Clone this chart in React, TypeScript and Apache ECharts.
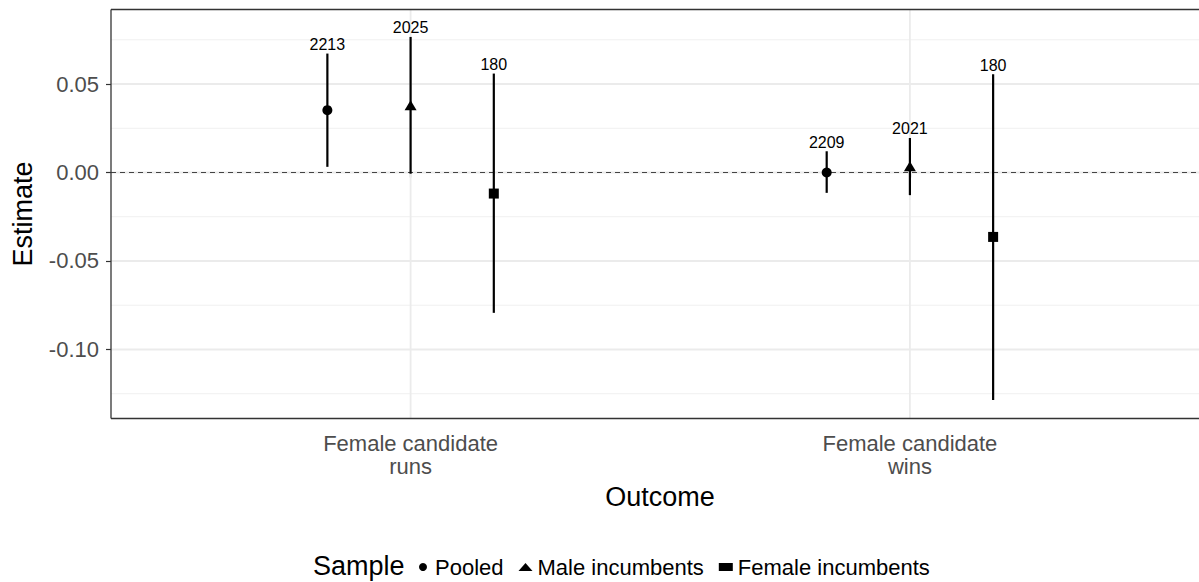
import React, { useEffect, useRef } from "react";
import * as echarts from "echarts";

const outcomes = ["Female candidate\nruns", "Female candidate\nwins"];
const samples = ["Pooled", "Male incumbents", "Female incumbents"];
const sampleSymbols = ["circle", "triangle", "rect"];

const pooledEst = [0.0352, 0.0];
const pooledLow = [0.0032, -0.0115];
const pooledHigh = [0.0672, 0.012];
const pooledN = [2213, 2209];

const maleEst = [0.038, 0.0036];
const maleLow = [-0.0007, -0.0128];
const maleHigh = [0.0766, 0.0195];
const maleN = [2025, 2021];

const femaleEst = [-0.0119, -0.0364];
const femaleLow = [-0.0793, -0.1286];
const femaleHigh = [0.0559, 0.0555];
const femaleN = [180, 180];

const yTicks = [-0.1, -0.05, 0, 0.05];
const yMinorTicks = [-0.125, -0.075, -0.025, 0.025, 0.075];
const xTicks = [1, 2];

const FONT = '"Liberation Sans", Arial, Helvetica, sans-serif';
const dodge = [-1 / 6, 0, 1 / 6];

export default function App() {
  const ref = useRef<HTMLDivElement>(null);
  useEffect(() => {
    if (!ref.current) return;
    const chart = echarts.init(ref.current, undefined, { renderer: "svg" });
    const groups = [
      { est: pooledEst, low: pooledLow, high: pooledHigh, n: pooledN },
      { est: maleEst, low: maleLow, high: maleHigh, n: maleN },
      { est: femaleEst, low: femaleLow, high: femaleHigh, n: femaleN },
    ];
    const symbolSizes: any[] = [10, [12, 10], 10];

    const hLines = (vals: number[], color: string, width: number, z: number) => ({
      type: "custom",
      silent: true,
      z,
      data: vals.map((v) => [v]),
      encode: { y: 0 },
      renderItem: (params: any, api: any) => {
        const cs = params.coordSys;
        const y = api.coord([1, api.value(0)])[1];
        return {
          type: "line",
          shape: { x1: cs.x, y1: y, x2: cs.x + cs.width, y2: y },
          style: { stroke: color, lineWidth: width },
        };
      },
    });
    const vLines = (vals: number[], color: string, width: number, z: number) => ({
      type: "custom",
      silent: true,
      z,
      data: vals.map((v) => [v]),
      encode: { x: 0 },
      renderItem: (params: any, api: any) => {
        const cs = params.coordSys;
        const x = api.coord([api.value(0), 0])[0];
        return {
          type: "line",
          shape: { x1: x, y1: cs.y, x2: x, y2: cs.y + cs.height },
          style: { stroke: color, lineWidth: width },
        };
      },
    });

    const series: any[] = [
      hLines(yMinorTicks, "#f0f0f0", 1, 1),
      hLines(yTicks, "#ebebeb", 1.8, 1),
      vLines(xTicks, "#ebebeb", 1.8, 1),
      {
        type: "custom",
        silent: true,
        z: 2,
        data: [[0]],
        encode: { y: 0 },
        renderItem: (params: any, api: any) => {
          const cs = params.coordSys;
          const y = api.coord([1, api.value(0)])[1];
          return {
            type: "line",
            shape: { x1: cs.x, y1: y, x2: cs.x + cs.width, y2: y },
            style: { stroke: "#444444", lineWidth: 1.1, lineDash: [5, 4] },
          };
        },
      },
      {
        // panel border (top, bottom, left; right side lies off-canvas)
        type: "custom",
        silent: true,
        z: 5,
        clip: false,
        data: [[0]],
        renderItem: (params: any) => {
          const cs = params.coordSys;
          const st = { stroke: "#333333", lineWidth: 1.3 };
          return {
            type: "group",
            children: [
              { type: "line", shape: { x1: cs.x, y1: cs.y, x2: cs.x + cs.width, y2: cs.y }, style: st },
              {
                type: "line",
                shape: { x1: cs.x, y1: cs.y + cs.height, x2: cs.x + cs.width, y2: cs.y + cs.height },
                style: st,
              },
              { type: "line", shape: { x1: cs.x, y1: cs.y, x2: cs.x, y2: cs.y + cs.height }, style: st },
            ],
          };
        },
      },
    ];

    groups.forEach((g, gi) => {
      series.push({
        type: "custom",
        name: samples[gi],
        silent: true,
        z: 3,
        data: outcomes.map((_, ci) => [ci + 1 + dodge[gi], g.low[ci], g.high[ci], g.n[ci]]),
        encode: { x: 0, y: [1, 2] },
        renderItem: (params: any, api: any) => {
          const x = api.value(0);
          const p1 = api.coord([x, api.value(1)]);
          const p2 = api.coord([x, api.value(2)]);
          return {
            type: "group",
            children: [
              {
                type: "line",
                shape: { x1: p1[0], y1: p1[1], x2: p2[0], y2: p2[1] },
                style: { stroke: "#000000", lineWidth: 2.2 },
              },
              {
                type: "text",
                x: p2[0],
                y: p2[1] - 1,
                style: {
                  text: String(api.value(3)),
                  fill: "#000000",
                  fontSize: 16,
                  fontFamily: FONT,
                  align: "center",
                  verticalAlign: "bottom",
                },
              },
            ],
          };
        },
      });
      series.push({
        type: "scatter",
        name: samples[gi],
        z: 4,
        symbol: sampleSymbols[gi],
        symbolSize: symbolSizes[gi],
        itemStyle: { color: "#000000", opacity: 1 },
        data: outcomes.map((_, ci) => [ci + 1 + dodge[gi], g.est[ci]]),
      });
    });

    chart.setOption({
      animation: false,
      backgroundColor: "#ffffff",
      textStyle: { fontFamily: FONT },
      grid: {
        left: 111,
        top: 9.5,
        width: 1098.5,
        height: 409,
        show: false,
        containLabel: false,
      },
      xAxis: {
        type: "value",
        min: 0.4,
        max: 2.6,
        splitLine: { show: false },
        axisLine: { show: false },
        axisTick: {
          show: true,
          customValues: xTicks,
          length: 5,
          lineStyle: { color: "#333333", width: 1.2 },
        },
        axisLabel: {
          customValues: xTicks,
          formatter: (v: number) => outcomes[Math.round(v) - 1] ?? "",
          fontSize: 22,
          color: "#4d4d4d",
          lineHeight: 23,
          margin: 13,
          fontFamily: FONT,
          align: "center",
        },
      },
      yAxis: {
        type: "value",
        min: -0.139,
        max: 0.0921,
        splitLine: { show: false },
        axisLine: { show: false },
        axisTick: {
          show: true,
          customValues: yTicks,
          length: 5,
          lineStyle: { color: "#333333", width: 1.2 },
        },
        axisLabel: {
          customValues: yTicks,
          formatter: (v: number) => v.toFixed(2),
          fontSize: 22,
          color: "#4d4d4d",
          margin: 12,
          fontFamily: FONT,
        },
      },
      legend: {
        left: 414,
        top: 551,
        orient: "horizontal",
        itemWidth: 14,
        itemHeight: 8,
        itemGap: 15,
        selectedMode: false,
        textStyle: { fontSize: 22, color: "#000000", fontFamily: FONT },
        data: samples.map((s, i) => ({
          name: s,
          icon: sampleSymbols[i],
          itemStyle: { color: "#000000" },
        })),
      },
      graphic: [
        {
          type: "text",
          x: 23,
          y: 214,
          rotation: Math.PI / 2,
          style: {
            text: "Estimate",
            fontSize: 27,
            fontFamily: FONT,
            fill: "#000000",
            align: "center",
            verticalAlign: "middle",
          },
        },
        {
          type: "text",
          x: 660,
          y: 497,
          style: {
            text: "Outcome",
            fontSize: 27,
            fontFamily: FONT,
            fill: "#000000",
            align: "center",
            verticalAlign: "middle",
          },
        },
        {
          type: "text",
          x: 313,
          y: 566,
          style: {
            text: "Sample",
            fontSize: 27,
            fontFamily: FONT,
            fill: "#000000",
            align: "left",
            verticalAlign: "middle",
          },
        },
      ],
      series,
    });
    return () => chart.dispose();
  }, []);
  return (
    <div
      ref={ref}
      style={{ position: "fixed", left: 0, top: 0, width: 1225, height: 582, background: "#fff" }}
    />
  );
}
